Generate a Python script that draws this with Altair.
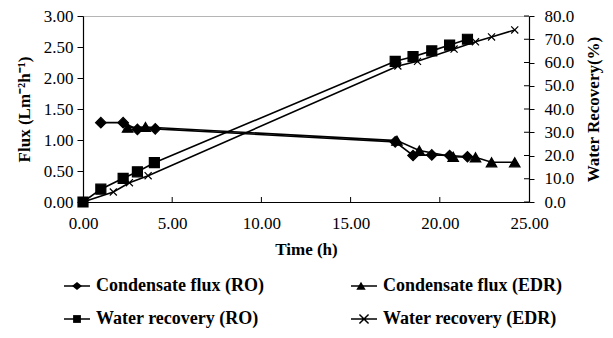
import altair as alt
import pandas as pd

# ---- data ----
ro_flux_t = [1.0, 2.25, 3.05, 4.05, 17.5, 18.5, 19.55, 20.55, 21.55]
ro_flux = [1.28, 1.28, 1.17, 1.18, 0.97, 0.75, 0.76, 0.75, 0.73]
edr_flux_t = [2.5, 3.5, 17.6, 18.85, 20.75, 22.0, 22.9, 24.2]
edr_flux = [1.20, 1.21, 0.99, 0.83, 0.73, 0.72, 0.64, 0.64]

ro_rec_t = [0.0, 1.0, 2.25, 3.05, 4.0, 17.5, 18.5, 19.55, 20.55, 21.55]
ro_rec = [0.0, 5.5, 10.2, 13.0, 16.9, 60.5, 62.5, 65.0, 67.5, 70.0]
edr_rec_t = [0.0, 1.7, 2.6, 3.65, 17.65, 18.75, 20.8, 22.0, 22.9, 24.2]
edr_rec = [0.0, 4.3, 8.3, 11.3, 58.5, 60.5, 65.8, 68.9, 71.0, 74.0]

series_names = ["Condensate flux (RO)", "Condensate flux (EDR)",
                "Water recovery (RO)", "Water recovery (EDR)"]
x_ticks = [0, 5, 10, 15, 20, 25]
flux_ticks = [0, 0.5, 1.0, 1.5, 2.0, 2.5, 3.0]
rec_ticks = [0, 10, 20, 30, 40, 50, 60, 70, 80]

flux_df = pd.concat([
    pd.DataFrame({"time": ro_flux_t, "val": ro_flux, "series": series_names[0]}),
    pd.DataFrame({"time": edr_flux_t, "val": edr_flux, "series": series_names[1]}),
])
rec_df = pd.concat([
    pd.DataFrame({"time": ro_rec_t, "val": ro_rec, "series": series_names[2]}),
    pd.DataFrame({"time": edr_rec_t, "val": edr_rec, "series": series_names[3]}),
])

FONT = "Liberation Serif"
W, H = 446, 186

x_enc = alt.X("time:Q",
              scale=alt.Scale(domain=[0, 25], nice=False, zero=False, padding=0),
              axis=alt.Axis(values=x_ticks, format=".2f", title="Time (h)",
                            ticks=False, tickSize=0, labelPadding=13, labelFlush=False,
                            titlePadding=10, grid=False))

flux_axis = alt.Axis(values=flux_ticks, format=".2f", title="Flux (Lm⁻²h⁻¹)",
                     tickSize=6, labelPadding=4, titlePadding=10, labelFlush=False,
                     grid=False)
rec_axis = alt.Axis(values=rec_ticks, format=".1f", title="Water Recovery(%)",
                    orient="right", tickSize=5, labelPadding=10, titlePadding=12,
                    titleAngle=-90, titleBaseline="top", labelFlush=False, grid=False)

flux_y = alt.Y("val:Q", scale=alt.Scale(domain=[0, 3], nice=False, padding=0), axis=flux_axis)
rec_y = alt.Y("val:Q", scale=alt.Scale(domain=[0, 80], nice=False, padding=0), axis=rec_axis)


def pts(df, y_enc, name, shape, size, filled=True):
    base = alt.Chart(df).transform_filter(alt.datum.series == name)
    if filled:
        mk = base.mark_point(shape=shape, size=size, filled=True, fill="black",
                             stroke="black", strokeWidth=1.2, opacity=1)
    else:
        mk = base.mark_point(shape=shape, size=size, filled=False,
                             stroke="black", strokeWidth=1.2, opacity=1)
    return mk.encode(x=x_enc, y=y_enc)


flux_line = alt.Chart(flux_df).mark_line(color="black", strokeWidth=1.6).encode(
    x=x_enc, y=flux_y, detail="series:N")
rec_line = alt.Chart(rec_df).mark_line(color="black", strokeWidth=1.6).encode(
    x=x_enc, y=rec_y, detail="series:N")

xtick_df = pd.DataFrame({"time": x_ticks[1:-1]})
xticks_in = alt.Chart(xtick_df).mark_rule(color="black", strokeWidth=1).encode(
    x=x_enc, y=alt.value(H), y2=alt.value(H - 5))

rtick_df = pd.DataFrame({"val": rec_ticks})
rticks_in = alt.Chart(rtick_df).mark_rule(color="black", strokeWidth=1).encode(
    y=rec_y, x=alt.value(W), x2=alt.value(W - 5))

X_PATH = "M-0.5,-0.5L0.5,0.5M-0.5,0.5L0.5,-0.5"
left = alt.layer(
    flux_line,
    pts(flux_df, flux_y, series_names[0], "diamond", 110),
    pts(flux_df, flux_y, series_names[1], "triangle-up", 110),
    xticks_in,
)
right = alt.layer(
    rec_line,
    pts(rec_df, rec_y, series_names[2], "square", 100),
    pts(rec_df, rec_y, series_names[3], X_PATH, 200, filled=False),
    rticks_in,
)

# legend: a stroked legend (lines, X, labels) with a filled-marker legend on top
marker_paths = [
    "M-0.38,0L0,-0.3L0.38,0L0,0.3Z",
    "M-0.36,0.28L0,-0.32L0.36,0.28Z",
    "M-0.3,-0.3H0.3V0.3H-0.3Z",
    "M0,0L0,0Z",
]
line_paths = [
    "M-1,0H1",
    "M-1,0H1",
    "M-1,0H1",
    "M-1,0H1M-0.35,-0.35L0.35,0.35M-0.35,0.35L0.35,-0.35",
]
legend_df = pd.DataFrame({"series": series_names})


def legend_props(col_pad, **kw):
    return alt.Legend(
        title=None, orient="none", legendX=-20, legendY=256,
        columns=2, direction="horizontal", columnPadding=col_pad, rowPadding=10,
        symbolSize=676, symbolOpacity=1, symbolStrokeWidth=1.5,
        labelFont=FONT, labelFontSize=18, labelFontWeight="bold",
        labelColor="black", labelOffset=5, labelLimit=400, **kw)


ghost_line = alt.Chart(legend_df).mark_point(
    filled=False, color="black", opacity=0, strokeWidth=1.5
).encode(
    shape=alt.Shape("series:N",
                    scale=alt.Scale(domain=series_names, range=line_paths),
                    sort=series_names, legend=legend_props(83)),
)
ghost_fill = alt.Chart(legend_df).mark_point(
    filled=True, color="black", opacity=0
).encode(
    shape=alt.Shape("series:N",
                    scale=alt.Scale(domain=series_names, range=marker_paths),
                    sort=series_names, legend=legend_props(83 + 168, labelExpr="''")),
)

chart = alt.layer(left, right, ghost_line, ghost_fill).resolve_scale(
    y="independent", shape="independent"
).resolve_legend(shape="independent").properties(
    width=W, height=H,
    autosize=alt.AutoSizeParams(type="none"),
    padding={"left": 75, "top": 8, "right": 76, "bottom": 128},
).configure(background="white").configure_view(
    stroke="#b5b5b5", strokeWidth=1
).configure_axis(
    labelFont=FONT, labelFontSize=17, labelColor="black",
    titleFont=FONT, titleFontSize=17, titleFontWeight="bold", titleColor="black",
    domainColor="black", domainWidth=1.2, tickColor="black", tickWidth=1,
)

chart.save("out.html", embed_options={"renderer": "svg", "actions": False})
